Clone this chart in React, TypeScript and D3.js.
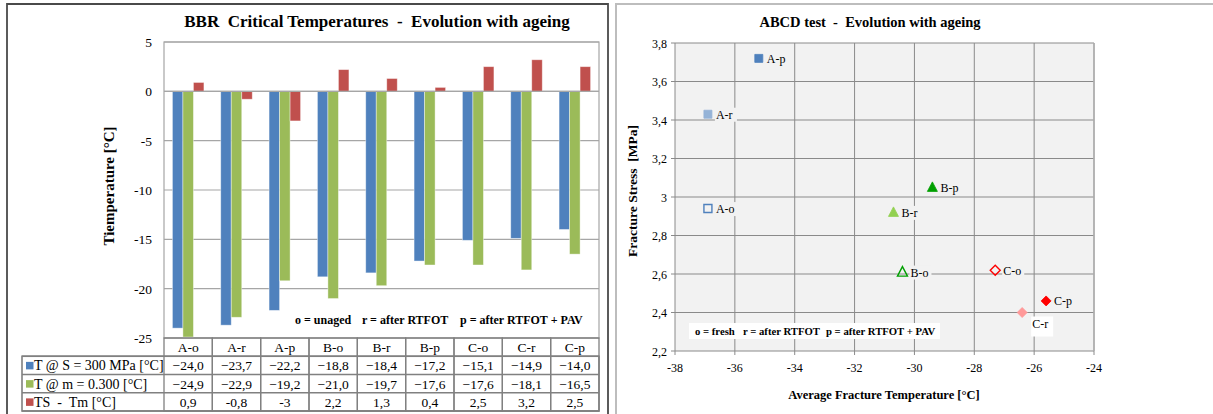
import React from "react";
import * as d3 from "d3";

// ---------- BBR data ----------
const categories = ["A-o", "A-r", "A-p", "B-o", "B-r", "B-p", "C-o", "C-r", "C-p"];
const seriesNames = ["T @ S = 300 MPa [°C]", "T @ m = 0.300 [°C]", "TS  -  Tm [°C]"];
const tS300 = [-24.0, -23.7, -22.2, -18.8, -18.4, -17.2, -15.1, -14.9, -14.0];
const tM300 = [-24.9, -22.9, -19.2, -21.0, -19.7, -17.6, -17.6, -18.1, -16.5];
const tDiff = [0.9, -0.8, -3, 2.2, 1.3, 0.4, 2.5, 3.2, 2.5];
const bbrTicks = [5, 0, -5, -10, -15, -20, -25];
const seriesColors = ["#4F81BD", "#9BBB59", "#C0504D"];

// ---------- ABCD data ----------
const abcdLabels = ["A-o", "A-r", "A-p", "B-o", "B-r", "B-p", "C-o", "C-r", "C-p"];
const abcdTemp = [-36.9, -36.9, -35.2, -30.4, -30.7, -29.4, -27.3, -26.4, -25.6];
const abcdStress = [2.94, 3.43, 3.72, 2.61, 2.92, 3.05, 2.62, 2.4, 2.46];
const abcdXTicks = [-38, -36, -34, -32, -30, -28, -26, -24];
const abcdYTicks = [2.2, 2.4, 2.6, 2.8, 3.0, 3.2, 3.4, 3.6, 3.8];
// marker styles
const markerShape = ["square", "square", "square", "triangle", "triangle", "triangle", "diamond", "diamond", "diamond"];
const markerFill = ["none", "#95B3D7", "#4F81BD", "none", "#92D050", "#00A000", "none", "#FF9999", "#FF0000"];
const markerStroke = ["#4F81BD", "#95B3D7", "#4F81BD", "#00A000", "#92D050", "#00A000", "#FF0000", "#FF9999", "#FF0000"];

const FONT = '"Liberation Serif", "Times New Roman", serif';
const comma = (s: string) => s.replace(".", ",");

function markerPath(shape: string, x: number, y: number) {
  const p = d3.path();
  if (shape === "square") {
    p.rect(x - 4, y - 4, 8, 8);
  } else if (shape === "triangle") {
    p.moveTo(x, y - 5.5);
    p.lineTo(x + 5, y + 4);
    p.lineTo(x - 5, y + 4);
    p.closePath();
  } else {
    p.moveTo(x, y - 5);
    p.lineTo(x + 5, y);
    p.lineTo(x, y + 5);
    p.lineTo(x - 5, y);
    p.closePath();
  }
  return p.toString();
}

function BBRChart() {
  const left = 164, right = 599, top = 42, bottom = 338;
  const y = d3.scaleLinear().domain([-25, 5]).range([bottom, top]);
  const x = d3.scaleBand<string>().domain(categories).range([left, right]).padding(0);
  const inner = d3
    .scaleBand<number>()
    .domain([0, 1, 2])
    .range([0, x.bandwidth()])
    .paddingInner(0)
    .paddingOuter(0.8);
  const series = [tS300, tM300, tDiff];
  const rowH = (411 - bottom) / 4;
  const rowLabels = [
    tS300.map((v) => comma(d3.format(".1f")(v))),
    tM300.map((v) => comma(d3.format(".1f")(v))),
    tDiff.map((v) => comma(String(v))),
  ];
  const grid = "#a6a6a6";
  const tbl = "#808080";
  return (
    <g style={{ fontFamily: FONT }}>
      {/* panel border */}
      <path d="M7,420 V4 H608 V420" fill="none" stroke="#4a4a4a" strokeWidth={1.8} />
      <text x={377} y={27} textAnchor="middle" fontSize={17} fontWeight="bold" style={{ whiteSpace: "pre" }}>
        {"BBR  Critical Temperatures  -  Evolution with ageing"}
      </text>
      {/* gridlines */}
      {bbrTicks.map((t) => (
        <line key={t} x1={left} x2={right} y1={y(t)} y2={y(t)} stroke={grid} strokeWidth={1.2} />
      ))}
      <rect x={left} y={top} width={right - left} height={bottom - top} fill="none" stroke={grid} strokeWidth={1.2} />
      {bbrTicks.map((t) => (
        <text key={t} x={152} y={y(t) + 5} textAnchor="end" fontSize={13.5}>
          {t}
        </text>
      ))}
      {/* bars */}
      {series.map((vals, si) =>
        vals.map((v, ci) => {
          const bx = (x(categories[ci]) as number) + (inner(si) as number);
          const y0 = y(Math.max(0, v));
          const y1 = y(Math.min(0, v));
          return (
            <rect
              key={si + "-" + ci}
              x={bx}
              y={y0}
              width={inner.bandwidth()}
              height={y1 - y0}
              fill={seriesColors[si]}
              stroke="#ffffff"
              strokeOpacity={0.5}
              strokeWidth={0.8}
            />
          );
        })
      )}
      <line x1={left} x2={right} y1={y(0)} y2={y(0)} stroke={grid} strokeWidth={1.2} />
      {/* note */}
      <g fontSize={12} fontWeight="bold">
        <text x={295} y={324}>o = unaged</text>
        <text x={362} y={324}>r = after RTFOT</text>
        <text x={460} y={324}>p = after RTFOT + PAV</text>
      </g>
      {/* y title */}
      <text transform={`translate(114,186) rotate(-90)`} textAnchor="middle" fontSize={15} fontWeight="bold">
        Tiemperature [°C]
      </text>
      {/* table */}
      <g fontSize={13.5}>
        {categories.map((c, ci) => (
          <g key={c}>
            <rect
              x={x(c) as number}
              y={bottom}
              width={x.bandwidth()}
              height={rowH * 4}
              fill="none"
              stroke={tbl}
              strokeWidth={1.3}
            />
            <text x={(x(c) as number) + x.bandwidth() / 2} y={bottom + rowH / 2 + 5} textAnchor="middle">
              {c}
            </text>
            {rowLabels.map((r, ri) => (
              <text
                key={ri}
                x={(x(c) as number) + x.bandwidth() / 2}
                y={bottom + rowH * (ri + 1) + rowH / 2 + 5}
                textAnchor="middle"
              >
                {r[ci]}
              </text>
            ))}
          </g>
        ))}
        {[1, 2, 3, 4].map((ri) => (
          <line key={ri} x1={22} x2={right} y1={bottom + rowH * ri} y2={bottom + rowH * ri} stroke={tbl} strokeWidth={1.3} />
        ))}
        <rect x={22} y={bottom + rowH} width={right - 22} height={rowH * 3} fill="none" stroke={tbl} strokeWidth={1.6} />
        {seriesNames.map((n, si) => (
          <g key={n}>
            <rect x={26} y={bottom + rowH * (si + 1) + rowH / 2 - 3.5} width={7.5} height={7.5} fill={seriesColors[si]} />
            <text x={34} y={bottom + rowH * (si + 1) + rowH / 2 + 5} fontSize={14} style={{ whiteSpace: "pre" }}>
              {n}
            </text>
          </g>
        ))}
      </g>
    </g>
  );
}

function ABCDChart() {
  const left = 675, right = 1094, top = 43, bottom = 351;
  const x = d3.scaleLinear().domain([-38, -24]).range([left, right]);
  const y = d3.scaleLinear().domain([2.2, 3.8]).range([bottom, top]);
  const grid = "#8a8a8a";
  const fmtY = (v: number) => comma(String(Number(v.toFixed(1))));
  return (
    <g style={{ fontFamily: FONT }}>
      <path d="M616,420 V4 H1220" fill="none" stroke="#bdbdbd" strokeWidth={2} />
      <text x={870} y={27} textAnchor="middle" fontSize={14.5} fontWeight="bold" style={{ whiteSpace: "pre" }}>
        {"ABCD test  -  Evolution with ageing"}
      </text>
      <rect x={left} y={top} width={right - left} height={bottom - top} fill="#f2f2f2" />
      {abcdXTicks.map((t) => (
        <line key={t} x1={x(t)} x2={x(t)} y1={top} y2={bottom + 4} stroke={grid} strokeWidth={1} />
      ))}
      {abcdYTicks.map((t) => (
        <line key={t} x1={left - 4} x2={right} y1={y(t)} y2={y(t)} stroke={grid} strokeWidth={1} />
      ))}
      <line x1={right} x2={right} y1={top} y2={bottom} stroke="#b0b0b0" strokeWidth={1.5} />
      {abcdXTicks.map((t) => (
        <text key={t} x={x(t)} y={372} textAnchor="middle" fontSize={12}>
          {t}
        </text>
      ))}
      {abcdYTicks.map((t) => (
        <text key={t} x={667} y={y(t) + 4.5} textAnchor="end" fontSize={12}>
          {fmtY(t)}
        </text>
      ))}
      {/* note box */}
      <rect x={689} y={323} width={251} height={16} fill="#ffffff" />
      <g fontSize={10.7} fontWeight="bold">
        <text x={695} y={335}>o = fresh</text>
        <text x={743} y={335}>r = after RTFOT</text>
        <text x={826} y={335}>p = after RTFOT + PAV</text>
      </g>
      {/* points */}
      {abcdLabels.map((lab, i) => {
        const px = x(abcdTemp[i]);
        const py = y(abcdStress[i]);
        const below = lab === "C-r";
        const lx = below ? px + 10 : px + 8;
        const ly = below ? py + 15 : py + 4.5;
        return (
          <g key={lab}>
            <rect
              x={lx - 1}
              y={ly - 11}
              width={22}
              height={below ? 20 : 14}
              fill={below ? "#ffffff" : "#f2f2f2"}
            />
            <path
              d={markerPath(markerShape[i], px, py)}
              fill={markerFill[i]}
              stroke={markerStroke[i]}
              strokeWidth={markerFill[i] === "none" ? 1.4 : 0.8}
            />
            <text x={lx} y={ly} fontSize={12}>
              {lab}
            </text>
          </g>
        );
      })}
      <text
        transform={`translate(637,191) rotate(-90)`}
        textAnchor="middle"
        fontSize={13.5}
        fontWeight="bold"
        style={{ whiteSpace: "pre" }}
      >
        {"Fracture Stress  [MPa]"}
      </text>
      <text x={884} y={399} textAnchor="middle" fontSize={12.5} fontWeight="bold">
        Average Fracture Temperature [°C]
      </text>
    </g>
  );
}

export default function App() {
  return (
    <svg
      width={1213}
      height={414}
      style={{ position: "absolute", left: 0, top: 0, background: "#ffffff" }}
    >
      <rect x={0} y={0} width={1213} height={414} fill="#ffffff" />
      <BBRChart />
      <ABCDChart />
    </svg>
  );
}
